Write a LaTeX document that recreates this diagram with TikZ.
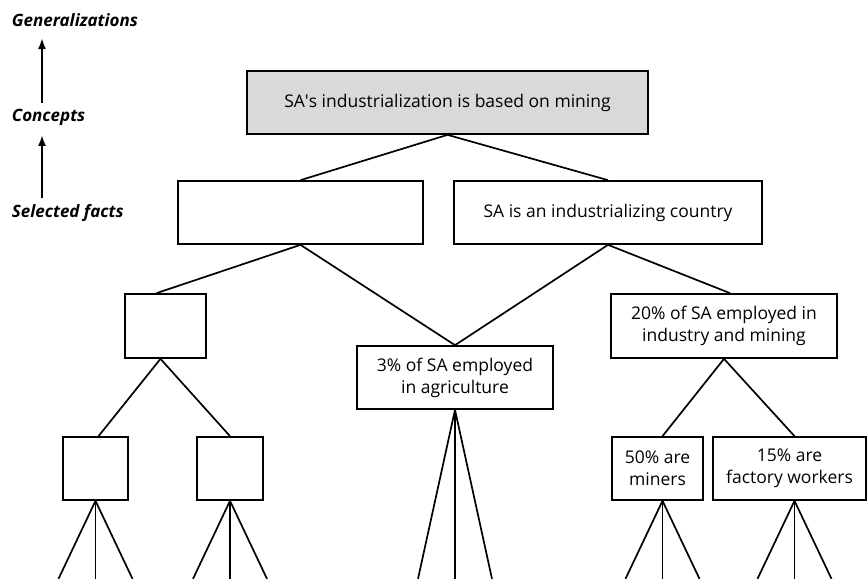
\documentclass[tikz,border=0pt]{standalone}
\usepackage{fontspec}
\setmainfont{Open Sans}
\usepackage{tikz}
\usetikzlibrary{arrows.meta}

\begin{document}
\begin{tikzpicture}[x=1pt, y=-1pt, line width=1.7pt,
    box/.style={draw, rectangle, inner sep=2pt, align=center, font=\fontsize{17.5}{22}\selectfont},
    lbl/.style={anchor=base west, inner sep=0pt, font=\fontsize{17}{20}\selectfont\bfseries\itshape},
    arr/.style={-{Latex[length=11pt,width=8pt]}, line width=2pt}]
  \useasboundingbox (0,0) rectangle (867,583);

  \node[lbl] (gen) at (11,27) {Generalizations};
  \node[lbl] (conc) at (11,122) {Concepts};
  \node[lbl] (sel) at (11,217) {Selected facts};
  \draw[arr, shorten <=6pt, shorten >=10pt] ([xshift=31pt]conc.north west) -- ([xshift=31pt]gen.south west);
  \draw[arr, shorten <=5pt, shorten >=8pt] ([xshift=31pt]sel.north west) -- ([xshift=31pt]conc.south west);

  \node[box, fill=gray!30, minimum width=401, minimum height=63] (top) at (447.5,102.5) {SA\textquotesingle s industrialization is based on mining};
  \node[box, minimum width=245, minimum height=63] (sfL) at (300.5,212.5) {};
  \node[box, minimum width=308, minimum height=63] (sfR) at (608,212.5) {SA is an industrializing country};
  \node[box, minimum width=81, minimum height=64] (cL) at (165.5,326) {};
  \node[box, minimum width=196, minimum height=63] (agri) at (455,377.5) {3\% of SA employed\\in agriculture};
  \node[box, minimum width=226, minimum height=64] (ind) at (724,326) {20\% of SA employed in\\industry and mining};
  \node[box, minimum width=65, minimum height=63] (b1) at (95.5,468.5) {};
  \node[box, minimum width=66, minimum height=63] (b2) at (230,468.5) {};
  \node[box, minimum width=91, minimum height=63] (min) at (657.5,468.5) {50\% are\\miners};
  \node[box, minimum width=153, minimum height=63] (fac) at (789.5,468.5) {15\% are\\factory workers};

  \draw (top.south) -- (sfL.north);
  \draw (top.south) -- (sfR.north);
  \draw (sfL.south) -- ([xshift=-9pt]cL.north);
  \draw (sfL.south) -- (agri.north);
  \draw (sfR.south) -- (agri.north);
  \draw (sfR.south) -- ([xshift=6pt]ind.north);
  \draw ([xshift=-5pt]cL.south) -- ([xshift=3pt]b1.north);
  \draw ([xshift=-5pt]cL.south) -- (b2.north);
  \draw (ind.south) -- ([xshift=5pt]min.north);
  \draw (ind.south) -- ([xshift=5pt]fac.north);

  \foreach \n/\s in {b1/0, b2/0, min/5, fac/5} {
    \foreach \dx in {-37,0,37}
      \draw ([xshift=\s pt]\n.south) -- ++(\dx,78);
  }
  \foreach \dx in {-37,0,37}
    \draw (agri.south) -- ++(\dx,169);
\end{tikzpicture}
\end{document}
